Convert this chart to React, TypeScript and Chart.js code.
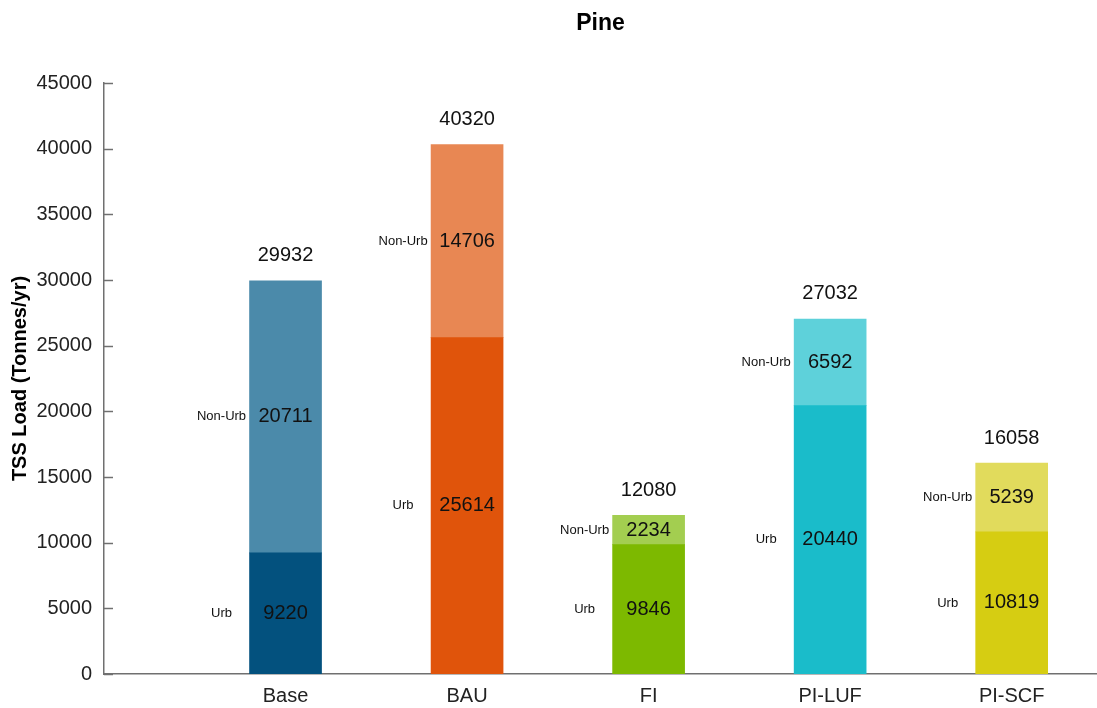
import { useEffect, useRef } from 'react';
import { Chart, registerables } from 'chart.js';

Chart.register(...registerables);

const categories = ['Base', 'BAU', 'FI', 'PI-LUF', 'PI-SCF'];
const urbValues = [9220, 25614, 9846, 20440, 10819];
const nonUrbValues = [20711, 14706, 2234, 6592, 5239];
const totalValues = [29932, 40320, 12080, 27032, 16058];
const urbColors = ['#03517E', '#E0540B', '#7DB900', '#1ABCCA', '#D6CD12'];
const nonUrbColors = ['#4B8AAA', '#E88753', '#A3CE50', '#5ED1DA', '#E1DB5C'];
const segmentNames = ['Urb', 'Non-Urb'];
const yMax = 45000;
const yStep = 5000;

const FONT = "'Liberation Sans', Arial, sans-serif";
const AXIS_COLOR = '#707070';

const overlayPlugin = {
  id: 'overlay',
  afterDraw(chart: any) {
    const ctx = chart.ctx;
    const ys = chart.scales.y;
    ctx.save();
    // inward tick marks on y axis
    ctx.strokeStyle = AXIS_COLOR;
    ctx.lineWidth = 1.5;
    ys.ticks.forEach((t: any) => {
      const py = Math.round(ys.getPixelForValue(t.value)) + 0.5;
      ctx.beginPath();
      ctx.moveTo(ys.right, py);
      ctx.lineTo(ys.right + 9, py);
      ctx.stroke();
    });
    // labels in segments
    ctx.textAlign = 'center';
    ctx.textBaseline = 'middle';
    chart.data.datasets.forEach((ds: any, d: number) => {
      const meta = chart.getDatasetMeta(d);
      meta.data.forEach((bar: any, i: number) => {
        const { x, y, base } = bar.getProps(['x', 'y', 'base'], true);
        const mid = (y + base) / 2;
        ctx.fillStyle = '#111';
        ctx.font = `20px ${FONT}`;
        ctx.fillText(String(ds.data[i].y), x, mid);
        ctx.font = `13px ${FONT}`;
        ctx.fillText(segmentNames[d], x - 64, mid);
        if (d === chart.data.datasets.length - 1) {
          ctx.font = `20px ${FONT}`;
          ctx.fillText(String(totalValues[i]), x, y - 25);
        }
      });
    });
    ctx.restore();
  },
};

export default function App() {
  const ref = useRef<HTMLCanvasElement | null>(null);
  useEffect(() => {
    if (!ref.current) return;
    const chart = new Chart(ref.current, {
      type: 'bar',
      data: {
        datasets: [
          {
            label: 'Urb',
            data: urbValues.map((v, i) => ({ x: i + 1, y: v })),
            backgroundColor: urbColors,
            barThickness: 72,
          },
          {
            label: 'Non-Urb',
            data: nonUrbValues.map((v, i) => ({ x: i + 1, y: v })),
            backgroundColor: nonUrbColors,
            barThickness: 72,
          },
        ],
      } as any,
      options: {
        responsive: false,
        animation: false,
        layout: { padding: { left: 0, right: 0, top: 0, bottom: 0 } },
        plugins: {
          legend: { display: false },
          tooltip: { enabled: false },
          title: {
            display: true,
            fullSize: false,
            text: 'Pine',
            color: '#000',
            font: { family: FONT, size: 23, weight: 'bold' },
            padding: { top: 10, bottom: 45.4 },
          },
        },
        scales: {
          x: {
            type: 'linear',
            stacked: true,
            offset: false,
            min: 0,
            max: 5.47,
            grid: { display: false, drawTicks: false, offset: false },
            border: { display: true, color: AXIS_COLOR, width: 1.5 },
            ticks: {
              stepSize: 1,
              autoSkip: false,
              maxRotation: 0,
              padding: 10,
              color: '#222',
              font: { family: FONT, size: 20 },
              callback: (v: any) => {
                const n = Number(v);
                return Number.isInteger(n) && n >= 1 && n <= categories.length ? categories[n - 1] : '';
              },
            },
            afterFit: (scale: any) => {
              scale.height = 34;
              scale.paddingLeft = 0;
              scale.paddingRight = 0;
            },
          },
          y: {
            stacked: true,
            min: 0,
            max: yMax,
            grid: { display: false, drawTicks: false },
            border: { display: true, color: AXIS_COLOR, width: 1.5 },
            ticks: {
              stepSize: yStep,
              padding: 12,
              color: '#222',
              font: { family: FONT, size: 20 },
              callback: (v: any) => String(v),
            },
            title: {
              display: true,
              text: 'TSS Load (Tonnes/yr)',
              color: '#000',
              font: { family: FONT, size: 20, weight: 'bold' },
              padding: { top: 8, bottom: 0 },
            },
            afterFit: (scale: any) => {
              scale.width = 104;
            },
          },
        },
      } as any,
      plugins: [overlayPlugin],
    });
    return () => chart.destroy();
  }, []);
  return (
    <div style={{ position: 'fixed', left: 0, top: 0, width: 1097, height: 708, background: '#fff' }}>
      <canvas ref={ref} width={1097} height={708} style={{ display: 'block' }} />
    </div>
  );
}
